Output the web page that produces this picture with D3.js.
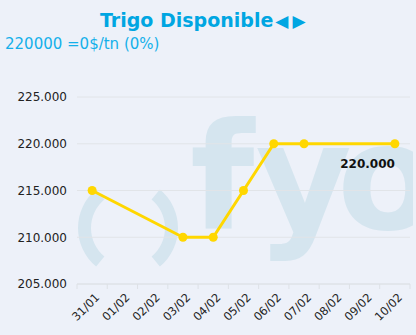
<!DOCTYPE html>
<html>
<head>
<meta charset="utf-8">
<script src="https://cdn.jsdelivr.net/npm/d3@7"></script>
<style>
  html, body { margin: 0; padding: 0; background: #edf1f9; }
  svg { display: block; font-family: "DejaVu Sans", Verdana, sans-serif; }
</style>
</head>
<body>
<div id="chart"></div>
<script>
// chart data
const categories = ["31/01", "01/02", "02/02", "03/02", "04/02", "05/02",
                    "06/02", "07/02", "08/02", "09/02", "10/02"];
const prices = [215000, null, null, 210000, 210000, 215000,
                220000, 220000, null, null, 220000];
const yTicks = [205000, 210000, 215000, 220000, 225000];
const lastLabel = "220.000";

const W = 416, H = 335;
const margin = { top: 97, right: 6, bottom: 51, left: 77 };
const width = W - margin.left - margin.right;
const height = H - margin.top - margin.bottom;

const svg = d3.select("#chart").append("svg")
  .attr("width", W)
  .attr("height", H);

svg.append("rect").attr("width", W).attr("height", H).attr("fill", "#edf1f9");

// --- watermark (clipped to plot width) ---
svg.append("clipPath").attr("id", "wmclip")
  .append("rect")
  .attr("x", margin.left).attr("y", 0)
  .attr("width", width + 3).attr("height", H);

const wm = svg.append("g")
  .attr("clip-path", "url(#wmclip)")
  .attr("fill", "#d5e5ef");
const ring = d3.arc().innerRadius(37).outerRadius(50);
wm.append("path")
  .attr("transform", "translate(128,228)")
  .attr("d", ring({ startAngle: Math.PI * 1.22, endAngle: Math.PI * 1.78 }));
wm.append("path")
  .attr("transform", "translate(128,228)")
  .attr("d", ring({ startAngle: Math.PI * 0.22, endAngle: Math.PI * 0.78 }));
const wmText = wm.append("text")
  .attr("x", 190).attr("y", 229)
  .style("font-family", "'DejaVu Sans', sans-serif")
  .style("font-size", "148px")
  .style("font-weight", "bold")
  .style("letter-spacing", "-12px");
wmText.append("tspan").text("f");
wmText.append("tspan").attr("dx", 13).text("y");
wmText.append("tspan").attr("dx", -3).text("o");

// --- title + subtitle ---
const title = svg.append("text")
  .attr("x", 100).attr("y", 27)
  .style("font-size", "19px")
  .style("font-weight", "bold")
  .style("fill", "#00a6e2");
title.append("tspan").text("Trigo Disponible");
title.append("tspan").attr("dx", 2).style("font-size", "17px").text("◀");
title.append("tspan").attr("dx", 4).style("font-size", "17px").text("▶");

svg.append("text")
  .attr("x", 5).attr("y", 49)
  .style("font-size", "15px")
  .style("fill", "#14b0ea")
  .text("220000 =0$/tn (0%)");

const g = svg.append("g")
  .attr("transform", `translate(${margin.left},${margin.top})`);

// --- scales ---
const x = d3.scaleBand()
  .domain(categories)
  .range([0, width]);

const y = d3.scaleLinear()
  .domain([205000, 225000])
  .range([height, 0]);

// --- gridlines ---
g.append("g")
  .selectAll("line")
  .data(yTicks)
  .enter()
  .append("line")
  .attr("x1", 0).attr("x2", width)
  .attr("y1", d => y(d)).attr("y2", d => y(d))
  .attr("stroke", "#e1e4e8")
  .attr("stroke-width", 1);

// --- y axis labels ---
g.append("g")
  .call(d3.axisLeft(y).tickValues(yTicks).tickSize(0).tickPadding(10)
    .tickFormat(d => d3.format(",.3f")(d / 1000).replace(/,/g, "")))
  .call(s => s.select(".domain").remove())
  .selectAll("text")
  .style("font-family", "'DejaVu Sans', Verdana, sans-serif")
  .style("font-size", "12px")
  .style("fill", "#222");

// --- x axis ---
const xAxis = g.append("g").attr("transform", `translate(0,${height})`);
xAxis.append("line")
  .attr("x1", 0).attr("x2", width)
  .attr("stroke", "#dde1e6");
xAxis.selectAll(".tk")
  .data(categories.concat(["end"]))
  .enter()
  .append("line")
  .attr("class", "tk")
  .attr("x1", (d, i) => i * x.step()).attr("x2", (d, i) => i * x.step())
  .attr("y1", 0).attr("y2", 5)
  .attr("stroke", "#dde1e6");

xAxis.append("g")
  .call(d3.axisBottom(x).tickSize(0))
  .call(s => s.select(".domain").remove())
  .selectAll("text")
  .attr("text-anchor", "end")
  .attr("dy", 0)
  .attr("transform", "translate(6,12) rotate(-45)")
  .style("font-family", "'DejaVu Sans', Verdana, sans-serif")
  .style("font-size", "11.5px")
  .style("fill", "#222");

// --- line ---
const pts = categories
  .map((c, i) => ({ c, v: prices[i] }))
  .filter(d => d.v !== null);

const line = d3.line()
  .x(d => x(d.c) + x.bandwidth() / 2)
  .y(d => y(d.v));

g.append("path")
  .datum(pts)
  .attr("d", line)
  .attr("fill", "none")
  .attr("stroke", "#ffd700")
  .attr("stroke-width", 3)
  .attr("stroke-linejoin", "round");

g.selectAll(".dot")
  .data(pts)
  .enter()
  .append("circle")
  .attr("class", "dot")
  .attr("cx", d => x(d.c) + x.bandwidth() / 2)
  .attr("cy", d => y(d.v))
  .attr("r", 4.5)
  .attr("fill", "#ffd700");

// --- last value label ---
const last = pts[pts.length - 1];
g.append("text")
  .attr("x", x(last.c) + x.bandwidth() / 2)
  .attr("y", y(last.v) + 24)
  .attr("text-anchor", "end")
  .style("font-size", "12px")
  .style("font-weight", "bold")
  .style("fill", "#111")
  .text(lastLabel);
</script>
</body>
</html>
